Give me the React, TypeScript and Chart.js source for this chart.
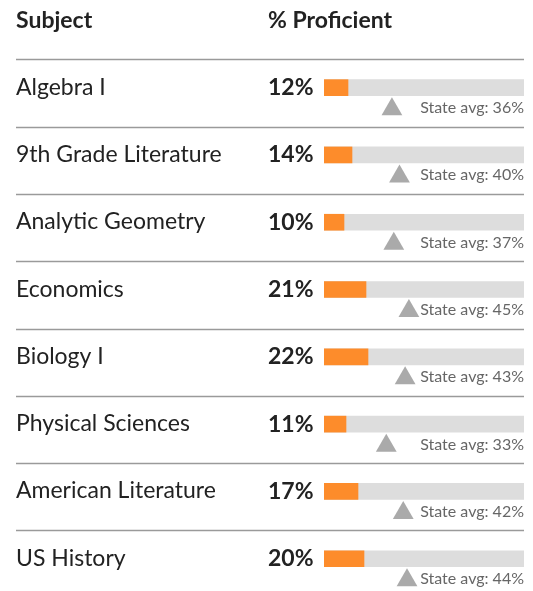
import React, { useEffect, useRef } from "react";
import { Chart, registerables } from "chart.js";

Chart.register(...registerables);

const subjects = [
  "Algebra I",
  "9th Grade Literature",
  "Analytic Geometry",
  "Economics",
  "Biology I",
  "Physical Sciences",
  "American Literature",
  "US History",
];
const proficient = [12, 14, 10, 21, 22, 11, 17, 20];
const stateAvg = [36, 40, 37, 45, 43, 33, 42, 44];
const headers = ["Subject", "% Proficient"];

const FONT = "Lato, 'Open Sans', sans-serif";

const tablePlugin = {
  id: "tableText",
  afterDatasetsDraw(chart: any) {
    const { ctx, scales } = chart;
    const x = scales.x;
    const y = scales.y;
    const right = x.getPixelForValue(100);
    ctx.save();
    ctx.fillStyle = "#222";
    ctx.font = `bold 23px ${FONT}`;
    ctx.textBaseline = "alphabetic";
    ctx.textAlign = "left";
    ctx.fillText(headers[0], 16, 27.5);
    ctx.fillText(headers[1], 268, 27.5);
    subjects.forEach((s, i) => {
      const cy = y.getPixelForValue(i);
      const sy = Math.round(y.getPixelForValue(i - 0.42)) + 0.5;
      ctx.strokeStyle = "#9a9a9a";
      ctx.lineWidth = 1.3;
      ctx.beginPath();
      ctx.moveTo(16, sy);
      ctx.lineTo(right, sy);
      ctx.stroke();
      ctx.fillStyle = "#222";
      ctx.textAlign = "left";
      ctx.font = `23px ${FONT}`;
      ctx.fillText(s, 16, cy + 7);
      ctx.font = `bold 23px ${FONT}`;
      ctx.fillText(proficient[i] + "%", 268, cy + 7.5);
      ctx.font = `16px ${FONT}`;
      ctx.fillStyle = "#666";
      ctx.textAlign = "right";
      ctx.fillText("State avg: " + stateAvg[i] + "%", right, cy + 25.5);
    });
    ctx.restore();
  },
};

export default function App() {
  const ref = useRef<HTMLCanvasElement | null>(null);
  useEffect(() => {
    if (!ref.current) return;
    const chart = new Chart(ref.current, {
      type: "bar",
      data: {
        datasets: [
          {
            type: "bar",
            data: proficient.map((v, i) => ({ x: v, y: i })),
            backgroundColor: "#fd8c2b",
            barThickness: 16,
            grouped: false,
            order: 1,
          } as any,
          {
            type: "bar",
            data: subjects.map((_, i) => ({ x: 100, y: i })),
            backgroundColor: "#dddddd",
            barThickness: 16,
            grouped: false,
            order: 2,
          } as any,
          {
            type: "scatter",
            xAxisID: "x2",
            data: stateAvg.map((v, i) => ({ x: v, y: i + 0.32 })),
            pointStyle: "triangle",
            pointRadius: 12,
            pointBackgroundColor: "#aaaaaa",
            pointBorderWidth: 0,
            clip: false,
            order: 0,
          } as any,
        ],
      },
      options: {
        indexAxis: "y",
        animation: false,
        responsive: false,
        maintainAspectRatio: false,
        layout: { autoPadding: false, padding: { left: 324, right: 9, top: 54, bottom: 2 } },
        scales: {
          x: { type: "linear", min: 0, max: 100, display: false, offset: false },
          x2: { type: "linear", axis: "x", min: 0, max: 106, display: false, offset: false },
          y: { type: "linear", min: -0.5, max: 7.45, reverse: true, display: false, offset: false },
        },
        plugins: { legend: { display: false }, tooltip: { enabled: false } },
      },
      plugins: [tablePlugin],
    });
    return () => chart.destroy();
  }, []);
  return (
    <div style={{ position: "absolute", left: 0, top: 0, width: 533, height: 591, background: "#fff" }}>
      <canvas ref={ref} width={533} height={591} style={{ width: 533, height: 591 }} />
    </div>
  );
}
